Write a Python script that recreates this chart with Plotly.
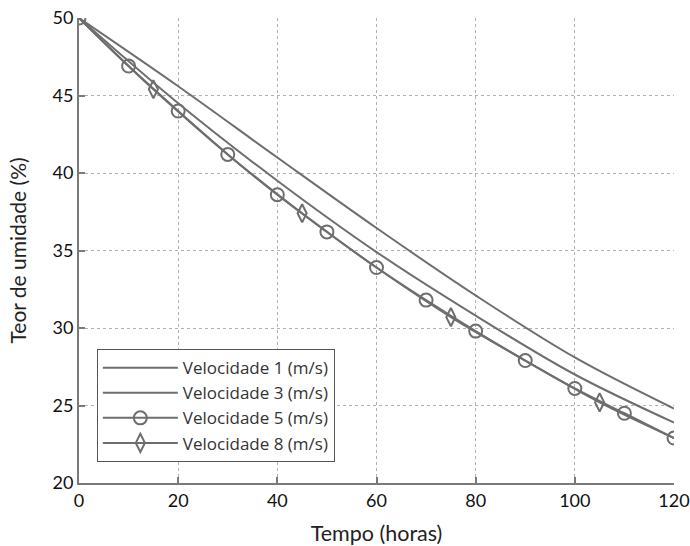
import plotly.graph_objects as go

# Data
x_lines = [0, 20, 40, 60, 80, 100, 120]
v1 = [50.0, 45.6, 41.0, 36.45, 32.1, 28.1, 24.8]
v3 = [50.0, 44.5, 39.5, 34.9, 30.8, 27.0, 23.9]

x_v5 = [0, 10, 20, 30, 40, 50, 60, 70, 80, 90, 100, 110, 120]
v5 = [50.0, 46.9, 44.0, 41.2, 38.6, 36.2, 33.9, 31.8, 29.8, 27.9, 26.1, 24.5, 22.9]

x_v8 = [0, 15, 30, 45, 60, 75, 90, 105, 120]
v8 = [50.0, 45.4, 41.2, 37.4, 33.9, 30.7, 27.9, 25.2, 22.9]
v8_marked = [1, 3, 5, 7]  # indices of points drawn with a diamond

names = ["Velocidade 1 (m/s)", "Velocidade 3 (m/s)", "Velocidade 5 (m/s)", "Velocidade 8 (m/s)"]

line_color = "#6e6e6e"
font_family = "Lato, 'Open Sans', sans-serif"

fig = go.Figure()
fig.add_trace(go.Scatter(x=x_lines, y=v1, mode="lines", name=names[0],
                         line=dict(color=line_color, width=2, shape="spline")))
fig.add_trace(go.Scatter(x=x_lines, y=v3, mode="lines", name=names[1],
                         line=dict(color=line_color, width=2, shape="spline")))
fig.add_trace(go.Scatter(x=x_v5, y=v5, mode="lines+markers", name=names[2],
                         line=dict(color=line_color, width=2, shape="spline"),
                         marker=dict(symbol="circle-open", size=13, color=line_color,
                                     line=dict(width=2, color=line_color))))
fig.add_trace(go.Scatter(x=x_v8, y=v8, mode="lines+markers", name=names[3],
                         line=dict(color=line_color, width=2, shape="spline"),
                         marker=dict(symbol="diamond-tall-open", size=13, color=line_color,
                                     line=dict(width=2, color=line_color)),
                         selectedpoints=v8_marked,
                         selected=dict(marker=dict(opacity=1)),
                         unselected=dict(marker=dict(opacity=0))))

axis_common = dict(
    showline=True, linecolor="#7a7a7a", linewidth=2,
    ticks="inside", ticklen=6, tickcolor="#7a7a7a", tickwidth=2,
    showgrid=True, gridcolor="#b0b0b0", griddash="dot", gridwidth=1,
    zeroline=False, mirror=False, automargin=False,
    ticklabeloverflow="allow",
    tickfont=dict(family=font_family, size=18, color="#111111"),
)

fig.update_xaxes(range=[0, 120], tickvals=[0, 20, 40, 60, 80, 100, 120],
                 title=dict(text="Tempo (horas)", font=dict(family=font_family, size=21.5, color="#222222"),
                            standoff=16),
                 **axis_common)
fig.update_yaxes(range=[20, 50], tickvals=[20, 25, 30, 35, 40, 45, 50],
                 title=dict(text="Teor de umidade (%)", font=dict(family=font_family, size=21, color="#222222"),
                            standoff=20),
                 **axis_common)

fig.update_layout(
    width=690, height=546,
    margin=dict(l=79, r=16, t=18, b=63),
    paper_bgcolor="white", plot_bgcolor="white",
    legend=dict(x=0.03, y=0.045, xanchor="left", yanchor="bottom",
                bgcolor="white", bordercolor="#555555", borderwidth=1,
                font=dict(family="'Open Sans', Lato, sans-serif", size=17, color="#333333"),
                itemwidth=75, tracegroupgap=0),
    showlegend=True,
)

fig.write_html(
    "out.html",
    config={"displayModeBar": False},
    post_script="document.body.style.margin='0';document.body.style.overflow='hidden';",
)
